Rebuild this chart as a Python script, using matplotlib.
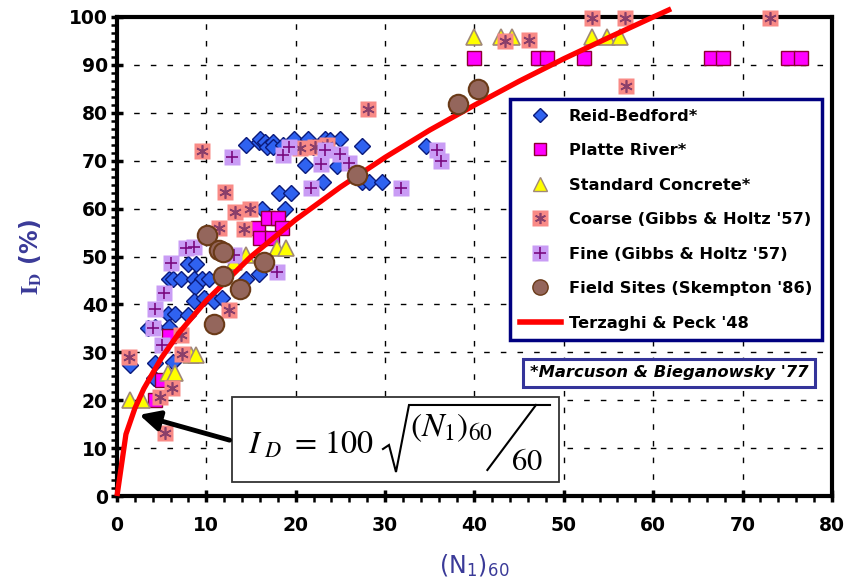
import matplotlib
matplotlib.use('Agg')
import matplotlib.pyplot as plt
from matplotlib.ticker import MultipleLocator
from matplotlib.lines import Line2D
from matplotlib.legend_handler import HandlerTuple
from matplotlib.patches import Rectangle

plt.rcParams['font.family'] = ['DejaVu Sans']
plt.rcParams['mathtext.fontset'] = 'stix'

# ---------------- data ----------------
reid_x = [14.4, 15.9, 16.0, 16.6, 16.8, 17.4, 17.5, 18.6, 19.8, 21.4, 21.9, 23.3, 23.8, 25.0, 27.4,
          21.0, 24.6, 23.1, 27.4, 28.2, 29.6, 34.6, 18.1, 19.5, 16.2, 18.8,
          7.9, 8.8, 5.8, 6.3, 7.2, 8.6, 9.5, 10.3, 8.7, 8.6, 9.7, 10.8, 11.7, 14.4, 15.9,
          5.7, 6.5, 8.0, 3.5, 4.3, 5.8, 1.5, 4.3, 6.3, 4.1]
reid_y = [73.3, 74.0, 74.5, 73.8, 72.9, 74.0, 72.9, 73.3, 74.5, 74.5, 72.9, 74.5, 74.3, 74.5, 73.1,
          69.0, 68.9, 65.6, 65.6, 65.6, 65.6, 73.1, 63.2, 63.2, 59.9, 59.9,
          48.4, 48.4, 45.2, 45.2, 45.2, 45.2, 45.2, 45.2, 43.7, 40.8, 41.3, 40.8, 41.3, 45.2, 46.3,
          38.0, 38.0, 37.8, 35.1, 35.3, 35.3, 27.3, 27.7, 28.0, 24.6]

platte_x = [5.8, 5.0, 4.2, 15.8, 16.9, 18.0, 18.5, 16.0, 17.3,
            39.9, 47.1, 48.1, 52.3, 66.5, 67.8, 75.1, 76.5]
platte_y = [33.3, 24.2, 20.0, 55.9, 58.0, 58.0, 55.9, 53.8, 53.8,
            91.4, 91.4, 91.4, 91.4, 91.4, 91.4, 91.4, 91.4]

concrete_x = [39.9, 43.0, 44.2, 53.1, 54.8, 56.3, 14.4, 13.1, 17.9, 18.9, 8.3, 8.8, 5.7, 6.5, 1.5, 2.8]
concrete_y = [95.8, 95.8, 95.8, 95.9, 95.9, 95.9, 50.3, 48.9, 51.7, 51.7, 29.4, 29.4, 25.6, 25.6, 20.0, 20.0]

coarse_x = [53.1, 56.8, 73.1, 57.0, 43.4, 46.1, 28.1, 9.5, 12.1, 13.2, 14.9, 11.4, 14.2,
            20.5, 22.2, 23.5, 12.5, 7.2, 7.3, 1.3, 6.1, 4.8, 5.4]
coarse_y = [99.7, 99.7, 99.7, 85.5, 94.9, 95.3, 80.7, 72.0, 63.5, 59.2, 59.9, 56.0, 55.7,
            72.6, 72.9, 73.3, 38.8, 33.6, 29.6, 29.1, 22.5, 20.7, 13.1]

fine_x = [12.9, 18.6, 19.2, 22.8, 23.3, 25.0, 26.0, 21.7, 35.8, 36.3, 31.8,
          7.7, 8.6, 6.0, 5.3, 4.2, 4.0, 5.0, 13.1, 17.9]
fine_y = [70.8, 71.2, 72.8, 69.4, 72.2, 71.4, 69.6, 64.2, 72.2, 69.9, 64.4,
          51.7, 52.0, 48.6, 42.3, 39.0, 35.0, 31.5, 50.3, 46.8]

field_x = [38.2, 40.4, 26.8, 10.1, 11.4, 11.9, 11.9, 13.8, 10.8, 16.4]
field_y = [81.8, 84.9, 67.0, 54.5, 51.4, 51.0, 45.9, 43.2, 36.0, 48.9]

tp_x = [0, 1, 2, 3, 5, 7, 10, 15, 20, 25, 30, 35, 40, 45, 50, 55, 60, 62]
tp_y = [0, 12.9, 18.3, 22.4, 28.9, 34.2, 40.8, 50.0, 57.7, 64.5, 70.7, 76.4, 81.6, 86.6, 91.3, 95.7, 100.0, 101.7]

labels = ["Reid-Bedford*", "Platte River*", "Standard Concrete*", "Coarse (Gibbs & Holtz '57)",
          "Fine (Gibbs & Holtz '57)", "Field Sites (Skempton '86)", "Terzaghi & Peck '48"]

# ---------------- styles ----------------
c_reid, e_reid = '#2f62f0', '#0a1a7a'
c_platte, e_platte = '#ff00ff', '#8a0030'
c_conc, e_conc = '#ffff00', '#a08878'
c_coarse, s_coarse = '#f98a86', '#8a3f6a'
c_fine, s_fine = '#c99cf5', '#7a0a80'
c_field, e_field = '#94665c', '#6a3a18'
navy = '#000080'
lab_col = '#3a3a98'

fig = plt.figure(figsize=(8.45, 5.88), dpi=100)
ax = fig.add_axes([117/845, 1-496/588, 715/845, 479/588])

ax.set_xlim(0, 80)
ax.set_ylim(0, 100)

kw = dict(ls='none', clip_on=False)
ax.plot(reid_x, reid_y, marker='D', ms=8, mfc=c_reid, mec=e_reid, mew=1.0, zorder=3, **kw)
ax.plot(platte_x, platte_y, marker='s', ms=10, mfc=c_platte, mec=e_platte, mew=1.0, zorder=4, **kw)
ax.plot(concrete_x, concrete_y, marker='^', ms=11, mfc=c_conc, mec=e_conc, mew=1.2, zorder=4, **kw)
ax.plot(coarse_x, coarse_y, marker='s', ms=12, mfc=c_coarse, mec='none', zorder=5, **kw)
ax.plot(coarse_x, coarse_y, marker=(6, 2, 0), ms=9, mec=s_coarse, mew=1.2, zorder=5, **kw)
ax.plot(fine_x, fine_y, marker='s', ms=12, mfc=c_fine, mec='none', zorder=5, **kw)
ax.plot(fine_x, fine_y, marker='+', ms=9, mec=s_fine, mew=1.2, zorder=5, **kw)
ax.plot(tp_x, tp_y, color='#ff0000', lw=3.8, zorder=6, clip_on=False, solid_capstyle='butt')
ax.plot(field_x, field_y, marker='o', ms=14, mfc=c_field, mec=e_field, mew=1.5, zorder=7, **kw)

# ---------------- axes styling ----------------
ax.xaxis.set_major_locator(MultipleLocator(10))
ax.xaxis.set_minor_locator(MultipleLocator(2))
ax.yaxis.set_major_locator(MultipleLocator(10))
ax.yaxis.set_minor_locator(MultipleLocator(10/6))
ax.tick_params(which='major', direction='inout', length=9, width=2.5, labelsize=13.5, pad=2)
ax.tick_params(which='minor', direction='out', length=4, width=1.8)
ax.tick_params(axis='x', which='major', pad=10)
for lab in ax.get_xticklabels() + ax.get_yticklabels():
    lab.set_fontweight('bold')
for s in ax.spines.values():
    s.set_linewidth(3)
    s.set_color('black')
ax.grid(True, which='major', color='black', lw=1.0, linestyle=(0, (4, 8)))
ax.set_axisbelow(True)

ax.set_ylabel(r"$\mathbf{I}_{\mathbf{D}}$ (%)", color=lab_col, fontsize=17, fontweight='bold',
              labelpad=18)
ax.set_xlabel(r"(N$_\mathregular{1}$)$_\mathregular{60}$", color=lab_col, fontsize=17,
              labelpad=12)

# ---------------- legend ----------------
handles = [
    Line2D([], [], ls='none', marker='D', ms=7, mfc=c_reid, mec=e_reid),
    Line2D([], [], ls='none', marker='s', ms=9, mfc=c_platte, mec=e_platte),
    Line2D([], [], ls='none', marker='^', ms=10, mfc=c_conc, mec=e_conc),
    (Line2D([], [], ls='none', marker='s', ms=11, mfc=c_coarse, mec='none'),
     Line2D([], [], ls='none', marker=(6, 2, 0), ms=8, mec=s_coarse, mew=1.2)),
    (Line2D([], [], ls='none', marker='s', ms=11, mfc=c_fine, mec='none'),
     Line2D([], [], ls='none', marker='+', ms=8, mec=s_fine, mew=1.2)),
    Line2D([], [], ls='none', marker='o', ms=11, mfc=c_field, mec=e_field),
    Line2D([], [], color='#ff0000', lw=4),
]
leg = ax.legend(handles, labels, loc='upper left', bbox_to_anchor=(0.55, 0.829),
                handler_map={tuple: HandlerTuple(ndivide=1)}, prop={'size': 11.7, 'weight': 'bold'},
                frameon=True, fancybox=False, framealpha=1, edgecolor=navy,
                labelspacing=1.2, handlelength=2.5, handletextpad=0.5, borderpad=0.6,
                borderaxespad=0)
leg.get_frame().set_linewidth(2.5)
leg.set_zorder(10)

ax.text(0.772, 0.257, "*Marcuson & Bieganowsky '77", transform=ax.transAxes, fontsize=11.8,
        fontweight='bold', fontstyle='italic', ha='center', va='center', zorder=10,
        bbox=dict(boxstyle='square,pad=0.4', fc='white', ec='#34349a', lw=2.2))

# ---------------- equation box ----------------
rect = Rectangle((0.161, 0.029), 0.618 - 0.161, 0.178, transform=ax.transAxes, fc='white',
                 ec='#333333', lw=1.3, zorder=8)
ax.add_patch(rect)
eq_kw = dict(transform=ax.transAxes, fontweight='normal', ha='left', va='baseline', zorder=9)
ax.text(0.183, 0.088, r"$I_{\ D}\ =\,100$", fontsize=23, **eq_kw)
ax.text(0.410, 0.125, r"$(N_1)_{60}$", fontsize=24, **eq_kw)
ax.text(0.551, 0.054, r"$60$", fontsize=22, **eq_kw)
# radical sign and slash of the formula
ax.add_line(Line2D([0.372, 0.3804, 0.3902, 0.4084, 0.6056], [0.0981, 0.1065, 0.0501, 0.19, 0.19],
                   transform=ax.transAxes, color='black', lw=1.5, zorder=9,
                   solid_joinstyle='miter', clip_on=False))
ax.add_line(Line2D([0.5180, 0.5860], [0.0543, 0.19], transform=ax.transAxes, color='black',
                   lw=1.5, zorder=9, clip_on=False))
ax.annotate('', xy=(2.2, 17.1), xytext=(12.9, 11.5),
            arrowprops=dict(arrowstyle='-|>', color='black', lw=3.5, mutation_scale=30),
            zorder=9)

fig.savefig('out.png', dpi=100)
